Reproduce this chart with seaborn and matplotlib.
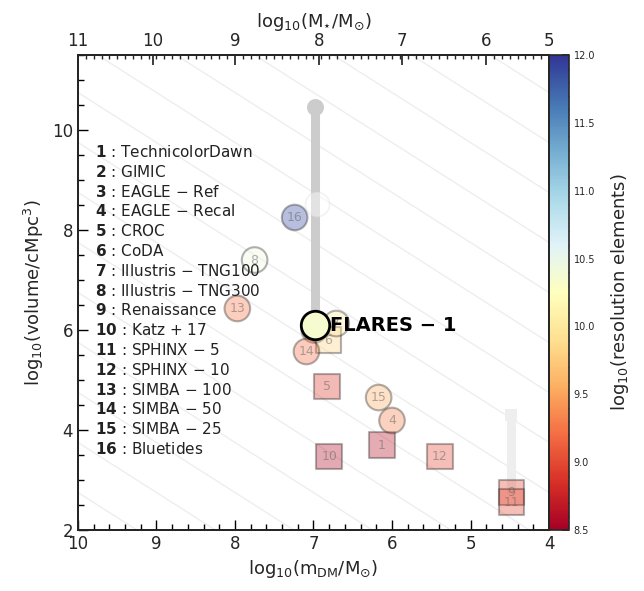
import numpy as np
import pandas as pd
import matplotlib
matplotlib.use("Agg")
import matplotlib.pyplot as plt
from matplotlib.ticker import MultipleLocator
import seaborn as sns

# ---------------- data ----------------
sim_ids = [1, 3, 4, 5, 6, 7, 8, 9, 10, 11, 12, 13, 14, 15, 16]
sim_names = ["TechnicolorDawn", "GIMIC", "EAGLE − Ref", "EAGLE − Recal", "CROC", "CoDA",
             "Illustris − TNG100", "Illustris − TNG300", "Renaissance", "Katz + 17",
             "SPHINX − 5", "SPHINX − 10", "SIMBA − 100", "SIMBA − 50", "SIMBA − 25",
             "Bluetides"]
log_mdm = [6.13, 6.99, 6.00, 6.83, 6.81, 6.71, 7.75, 4.48, 6.80, 4.48, 5.39, 7.97, 7.09, 6.17, 7.24]
log_vol = [3.70, 6.00, 4.19, 4.87, 5.80, 6.13, 7.40, 2.75, 3.47, 2.56, 3.47, 6.43, 5.57, 4.65, 8.25]
log_res = [8.65, 9.50, 9.30, 8.90, 9.80, 10.0, 10.45, 9.00, 8.60, 9.00, 9.00, 9.25, 9.20, 9.55, 11.9]
marker_kind = ["s", "o", "o", "s", "s", "o", "o", "s", "s", "s", "s", "o", "o", "o", "o"]

# GIMIC (parent volume, faint)
gimic_mdm, gimic_vol = 6.96, 8.53

# FLARES
flares_mdm, flares_vol, flares_res = 6.98, 6.10, 10.35
flares_parent_vol = 10.47
# Renaissance parent volume bar
ren_mdm, ren_vol_low, ren_vol_high = 4.48, 2.75, 4.30

# constant-resolution guide lines (y = x + c)
guide_offsets = list(np.arange(-9.25, 8.0, 1.0))

bottom_ticks = [10, 9, 8, 7, 6, 5, 4]
top_tick_labels = ["11", "10", "9", "8", "7", "6", "5"]
top_tick_pos = [10.0, 9.05, 8.0, 6.93, 5.87, 4.80, 4.0]
cbar_ticks = [8.5, 9.0, 9.5, 10.0, 10.5, 11.0, 11.5, 12.0]

# ---------------- plot ----------------
sns.set_theme(style="ticks")
plt.rcParams["font.family"] = ["DejaVu Sans"]
plt.rcParams["mathtext.fontset"] = "dejavusans"
plt.rcParams["mathtext.default"] = "regular"

fig = plt.figure(figsize=(6.44, 5.91), dpi=100)
ax = fig.add_axes([0.1211, 0.1032, 0.7314, 0.8037])
cax = fig.add_axes([0.8525, 0.1032, 0.031, 0.8037])

cmap = plt.get_cmap("RdYlBu")
norm = matplotlib.colors.Normalize(8.5, 12.0)

xlim = (10, 4)
ylim = (2, 11.5)
ax.set_xlim(*xlim)
ax.set_ylim(*ylim)

xx = np.array([3.5, 10.5])
for c in guide_offsets:
    ax.plot(xx, xx + c, color="#eeeeee", lw=1.0, zorder=0)

# FLARES parent bar
ax.plot([flares_mdm, flares_mdm], [flares_vol, flares_parent_vol], color="#cccccc",
        lw=6.5, zorder=1, solid_capstyle="butt")
ax.scatter([flares_mdm], [flares_parent_vol], s=150, color="#cccccc", zorder=1, linewidths=0)
# Renaissance bar
ax.plot([ren_mdm, ren_mdm], [ren_vol_low, ren_vol_high], color="#eeeeee",
        lw=6.5, zorder=1, solid_capstyle="butt")
ax.scatter([ren_mdm], [ren_vol_high], s=70, marker="s", color="#eeeeee", zorder=1, linewidths=0)

df = pd.DataFrame({"id": sim_ids, "mdm": log_mdm, "vol": log_vol,
                   "res": log_res, "kind": marker_kind})
sns.scatterplot(data=df, x="mdm", y="vol", hue="res", palette="RdYlBu", hue_norm=(8.5, 12.0),
                style="kind", markers={"o": "o", "s": "s"}, s=340, alpha=0.35,
                edgecolor="#202020", linewidth=1.5, legend=False, ax=ax, zorder=3)
for i, x, y in zip(sim_ids, log_mdm, log_vol):
    ax.text(x, y, str(i), ha="center", va="center", fontsize=9, color="#606060",
            alpha=0.5, zorder=4)

ax.scatter([gimic_mdm], [gimic_vol], s=300, color="white", alpha=0.45,
           edgecolor="#e4e4e4", linewidth=1.2, zorder=2)

ax.scatter([flares_mdm], [flares_vol], s=420, color=cmap(norm(flares_res)),
           edgecolor="black", linewidth=2, zorder=6)
ax.text(flares_mdm - 0.19, flares_vol, "FLARES − 1", fontsize=14, fontweight="bold",
        ha="left", va="center", color="black", zorder=7)

# legend text
for k, name in enumerate(sim_names):
    ax.text(9.78, 9.56 - k * 0.396, f"$\\bf{{{k+1}}}$ : {name}", fontsize=11,
            ha="left", va="center", color="#222222", zorder=5)

ax.set_xticks(bottom_ticks)
ax.xaxis.set_minor_locator(MultipleLocator(0.2))
ax.yaxis.set_major_locator(MultipleLocator(2))
ax.yaxis.set_minor_locator(MultipleLocator(0.5))
ax.tick_params(which="both", direction="in", top=False, right=False, labelsize=12, color="black")
ax.tick_params(which="major", length=7, width=1)
ax.tick_params(which="minor", length=4, width=1)
ax.set_xlabel(r"$\mathrm{log_{10}(m_{DM}/M_{\odot})}$", fontsize=13)
ax.set_ylabel(r"$\mathrm{log_{10}(volume/cMpc^{3})}$", fontsize=13)
for sp in ax.spines.values():
    sp.set_color("black")
    sp.set_linewidth(1.2)

ax2 = ax.twiny()
ax2.set_xlim(*xlim)
ax2.set_xticks(top_tick_pos)
ax2.set_xticklabels(top_tick_labels)
ax2.xaxis.set_minor_locator(MultipleLocator(0.1))
ax2.tick_params(which="both", direction="in", labelsize=12)
ax2.tick_params(which="major", length=7)
ax2.tick_params(which="minor", length=3)
ax2.set_xlabel(r"$\mathrm{log_{10}(M_{\star}/M_{\odot})}$", fontsize=13)

sm = matplotlib.cm.ScalarMappable(norm=norm, cmap=cmap)
cb = fig.colorbar(sm, cax=cax, ticks=cbar_ticks)
cb.ax.yaxis.set_minor_locator(MultipleLocator(0.1))
cb.ax.tick_params(which="both", direction="in", labelsize=7)
cb.ax.tick_params(which="major", length=5)
cb.ax.tick_params(which="minor", length=3)
cb.ax.set_yticklabels([f"{t:.1f}" for t in cbar_ticks])
cb.set_label(r"$\mathrm{log_{10}(resolution\ elements)}$", fontsize=13, labelpad=10)
cb.outline.set_linewidth(1.2)

fig.savefig("out.png", dpi=100)
